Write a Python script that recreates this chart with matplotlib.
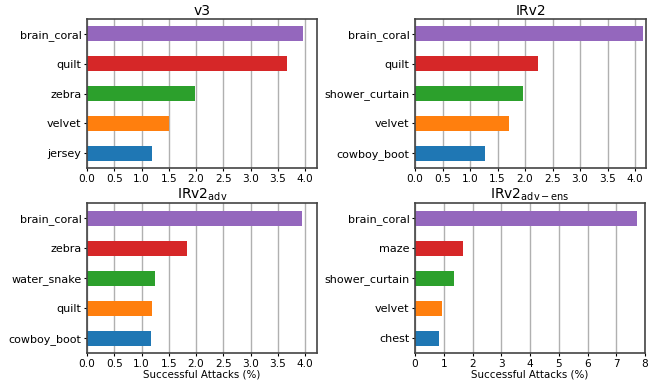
import matplotlib
matplotlib.use("Agg")
import matplotlib.pyplot as plt

# class labels (bottom to top) and success rates (%) per model
v3_labels = ["jersey", "velvet", "zebra", "quilt", "brain_coral"]
v3_values = [1.20, 1.51, 1.98, 3.67, 3.97]

irv2_labels = ["cowboy_boot", "velvet", "shower_curtain", "quilt", "brain_coral"]
irv2_values = [1.27, 1.71, 1.96, 2.23, 4.14]

adv_labels = ["cowboy_boot", "quilt", "water_snake", "zebra", "brain_coral"]
adv_values = [1.17, 1.19, 1.25, 1.83, 3.94]

ens_labels = ["chest", "velvet", "shower_curtain", "maze", "brain_coral"]
ens_values = [0.83, 0.93, 1.35, 1.66, 7.72]

colors = ["#1f77b4", "#ff7f0e", "#2ca02c", "#d62728", "#9467bd"]

fig = plt.figure(figsize=(6.57, 3.87), dpi=100)
W, H = 657, 387

def make_ax(x0, x1, y0, y1):
    return fig.add_axes([x0 / W, 1 - y1 / H, (x1 - x0) / W, (y1 - y0) / H])

axes = [
    make_ax(87, 317, 19, 168),
    make_ax(415, 646, 19, 168),
    make_ax(87, 317, 203, 353),
    make_ax(415, 645, 203, 353),
]
panels = [
    ("v3", v3_labels, v3_values, 4.22, [i * 0.5 for i in range(9)]),
    ("IRv2", irv2_labels, irv2_values, 4.2, [i * 0.5 for i in range(9)]),
    ("IRv2$_{\\mathrm{adv}}$", adv_labels, adv_values, 4.22, [i * 0.5 for i in range(9)]),
    ("IRv2$_{\\mathrm{adv-ens}}$", ens_labels, ens_values, 8.0, list(range(9))),
]

for i, (ax, (title, labels, values, xmax, ticks)) in enumerate(zip(axes, panels)):
    ax.set_axisbelow(True)
    ax.barh(range(len(values)), values, height=0.5, color=colors)
    ax.set_yticks(range(len(values)))
    ax.set_yticklabels(labels, fontsize=8)
    ax.set_xticks(ticks)
    if xmax == 8.0:
        ax.set_xticklabels([str(t) for t in ticks], fontsize=7.6)
    else:
        ax.set_xticklabels(["%.1f" % t for t in ticks], fontsize=7.6)
    ax.set_xlim(0, xmax)
    ax.set_ylim(-0.5, 4.5)
    ax.grid(axis="x", color="#b0b0b0", linewidth=1.0)
    ax.set_title(title, fontsize=10, pad=3)
    for s in ax.spines.values():
        s.set_color("#444444")
        s.set_linewidth(1.2)
    ax.tick_params(axis="both", length=2.5, width=0.8, pad=1.5)
    if i >= 2:
        ax.set_xlabel("Successful Attacks (%)", fontsize=7.4, labelpad=1)

fig.savefig("out.png", dpi=100)
